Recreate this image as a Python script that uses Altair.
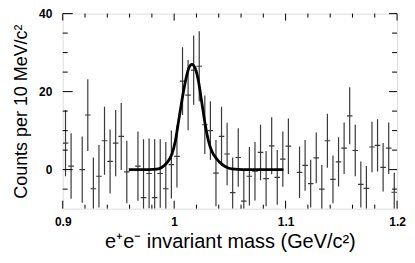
import altair as alt
import pandas as pd

# ---- data ----
mass = [0.9025, 0.9075, 0.9175, 0.9225, 0.9275, 0.9325, 0.9375, 0.9425, 0.9475, 0.9525,
        0.9575, 0.9675, 0.9725, 0.9775, 0.9825, 0.9875, 0.9925, 0.9975, 1.0025, 1.0075,
        1.0125, 1.0175, 1.0225, 1.0275, 1.0325, 1.0375, 1.0425, 1.0475, 1.0525, 1.0575,
        1.0625, 1.0675, 1.0725, 1.0775, 1.0825, 1.0875, 1.0925, 1.0975, 1.1025, 1.1125,
        1.1175, 1.1225, 1.1275, 1.1325, 1.1375, 1.1425, 1.1475, 1.1525, 1.1575, 1.1625,
        1.1675, 1.1725, 1.1775, 1.1825, 1.1875, 1.1925, 1.1975]
counts = [6.8, 0.9, 0.0, 14.0, -4.9, -1.7, 7.4, 2.1, 6.8, 8.5,
          -0.6, 0.9, -7.2, -1.0, -7.2, -1.0, -4.9, 1.3, 3.4, 22.7,
          19.1, 25.5, 26.5, 11.5, 10.0, -0.9, 8.5, 4.0, -5.9, 3.1,
          -8.1, -1.7, -0.4, 4.4, -2.3, 6.1, -2.0, 2.7, 6.0, -0.7,
          1.1, -3.6, 3.0, -5.0, 7.4, -2.5, 2.0, 5.5, 13.8, 4.9,
          -3.8, -4.8, 5.8, 6.2, 0.6, 5.5, -5.8]
errors = [8.5, 8.4, 8.5, 9.2, 8.0, 8.0, 8.7, 8.2, 8.5, 8.6,
          8.0, 8.9, 15.0, 9.0, 15.0, 8.8, 12.0, 8.7, 8.0, 8.7,
          9.0, 8.9, 9.0, 7.5, 7.5, 8.5, 7.6, 8.0, 9.0, 7.5,
          8.1, 7.5, 7.5, 7.1, 7.1, 7.3, 7.0, 7.1, 7.1, 6.6,
          6.5, 6.1, 6.5, 6.2, 6.9, 6.1, 6.3, 6.6, 7.3, 6.6,
          5.9, 5.7, 6.5, 6.7, 6.2, 6.6, 5.0]

fit_mass = [0.9593, 0.9772, 0.9843, 0.9891, 0.9936, 0.9980, 1.0011, 1.0040, 1.0070,
            1.0100, 1.0130, 1.0159, 1.0190, 1.0219, 1.0249, 1.0279, 1.0309, 1.0338,
            1.0383, 1.0428, 1.0470, 1.0517, 1.0622, 1.0980]
fit_counts = [0.0, 0.0, 0.1, 0.6, 1.8, 4.0, 7.4, 12.5, 17.8,
              22.5, 25.9, 27.0, 25.9, 22.5, 17.0, 11.5, 7.2, 4.7,
              2.7, 1.4, 0.6, 0.2, 0.0, 0.0]

x_major = [0.9, 1.0, 1.1, 1.2]
x_minor = [0.92, 0.94, 0.96, 0.98, 1.02, 1.04, 1.06, 1.08, 1.12, 1.14, 1.16, 1.18]
y_major = [0, 20, 40]
y_minor = [-5, 5, 10, 15, 25, 30, 35]

# ---- tables ----
half_bin = 0.0025
df = pd.DataFrame({"mass": mass, "counts": counts, "err": errors})
df["lo"] = df["counts"] - df["err"]
df["hi"] = df["counts"] + df["err"]
df["xl"] = df["mass"] - half_bin
df["xr"] = df["mass"] + half_bin
fit_df = pd.DataFrame({"m": fit_mass, "c": fit_counts})

W, H = 336, 196
FONT = "Liberation Sans"

xs = alt.Scale(domain=[0.9, 1.2], nice=False, zero=False)
ys = alt.Scale(domain=[-10, 40], nice=False, zero=False)

x_axis = alt.Axis(values=x_major, format="~g", ticks=False, tickSize=0, domain=False, grid=False,
                  labelFont=FONT, labelFontWeight="bold", labelFontSize=12, labelColor="black",
                  labelPadding=8, labelFlush=False, labelOverlap=False,
                  title="e⁺e⁻ invariant mass (GeV/c²)", titleFont=FONT, titleFontSize=20,
                  titleFontWeight="normal", titleColor="black", titleX=168, titleY=39,
                  titleBaseline="alphabetic", titleAlign="center")
y_axis = alt.Axis(values=y_major, ticks=False, tickSize=0, domain=False, grid=False,
                  labelFont=FONT, labelFontWeight="bold", labelFontSize=12, labelColor="black",
                  labelPadding=11, labelFlush=False, labelOverlap=False,
                  title="Counts per 10 MeV/c²", titleFont=FONT, titleFontSize=18,
                  titleFontWeight="normal", titleColor="black", titleAngle=-90,
                  titleX=-36, titleY=98, titleBaseline="alphabetic", titleAlign="center")

BAR = "#3a3a3a"

bars = alt.Chart(df).mark_rule(color=BAR, strokeWidth=1.2, clip=True).encode(
    x=alt.X("mass:Q", scale=xs, axis=x_axis),
    y=alt.Y("lo:Q", scale=ys, axis=y_axis),
    y2="hi:Q",
)
hticks = alt.Chart(df).mark_rule(color=BAR, strokeWidth=1.2, clip=True).encode(
    x=alt.X("xl:Q", scale=xs, axis=x_axis),
    x2="xr:Q",
    y=alt.Y("counts:Q", scale=ys, axis=y_axis),
)
fit = alt.Chart(fit_df).mark_line(color="black", strokeWidth=2.8, interpolate="monotone").encode(
    x=alt.X("m:Q", scale=xs, axis=x_axis),
    y=alt.Y("c:Q", scale=ys, axis=y_axis),
)

def xticks(vals, y0, y1):
    return alt.Chart(pd.DataFrame({"v": vals})).mark_rule(color="black", strokeWidth=1).encode(
        x=alt.X("v:Q", scale=xs, axis=x_axis), y=alt.value(y0), y2=alt.value(y1))

def yticks(vals, x0, x1):
    return alt.Chart(pd.DataFrame({"v": vals})).mark_rule(color="black", strokeWidth=1).encode(
        y=alt.Y("v:Q", scale=ys, axis=y_axis), x=alt.value(x0), x2=alt.value(x1))

tick_layers = [
    xticks(x_minor, H, H - 4), xticks(x_major, H, H - 8),
    xticks(x_minor, 0, 4), xticks(x_major, 0, 7),
    yticks(y_minor, 0, 5), yticks(y_major, 0, 10),
    yticks(y_minor, W, W - 5), yticks(y_major, W, W - 8),
]

chart = alt.layer(bars, hticks, *tick_layers, fit).properties(
    width=W, height=H,
    padding={"left": 55, "top": 5, "right": 10, "bottom": 50},
    autosize=alt.AutoSizeParams(type="none"),
).configure_view(stroke="black", strokeWidth=1).configure(background="white")

chart.save("out.html", embed_options={"renderer": "svg", "actions": False})
